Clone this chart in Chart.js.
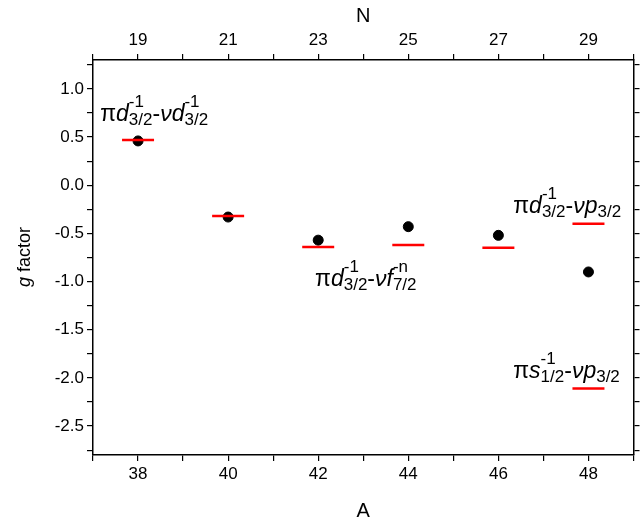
<!DOCTYPE html>
<html>
<head>
<meta charset="utf-8">
<script src="https://cdn.jsdelivr.net/npm/chart.js@4"></script>
<style>
  body { margin: 0; background: #fff; overflow: hidden; }
  #wrap { width: 652px; height: 527px; }
</style>
</head>
<body>
<div id="wrap"><canvas id="gchart"></canvas></div>
<script>
// mass numbers and measured g factors
var massA = [38, 40, 42, 44, 46, 48];
var gExp = [0.46, -0.33, -0.57, -0.43, -0.52, -0.90];
// calculated configurations (red bars)
var calcA = [38, 40, 42, 44, 46, 48, 48];
var gCalc = [0.47, -0.32, -0.64, -0.62, -0.65, -0.40, -2.11];
var yTicks = [-2.5, -2.0, -1.5, -1.0, -0.5, 0.0, 0.5, 1.0];

// configuration labels: [x, y, segments]; seg = [text, italic] or {sup, sub}
var labels = [
    [37.16, 0.67, [["π", false], ["d", true], { sup: "-1", sub: "3/2" }, ["-", false], ["ν", true], ["d", true], { sup: "-1", sub: "3/2" }]],
    [41.93, -1.05, [["π", false], ["d", true], { sup: "-1", sub: "3/2" }, ["-", false], ["ν", true], ["f", true], { sup: "-n", sub: "7/2" }]],
    [46.33, -0.29, [["π", false], ["d", true], { sup: "-1", sub: "3/2" }, ["-", false], ["ν", true], ["p", true], { sup: "", sub: "3/2" }]],
    [46.33, -2.0, [["π", false], ["s", true], { sup: "-1", sub: "1/2" }, ["-", false], ["ν", true], ["p", true], { sup: "", sub: "3/2" }]]
];

function toXY(xs, ys) {
    return xs.map(function (x, i) { return { x: x, y: ys[i] }; });
}

var labelPlugin = {
    id: "configLabels",
    afterDatasetsDraw: function (chart) {
        var c = chart.ctx;
        var sx = chart.scales.x, sy = chart.scales.y;
        c.save();
        c.fillStyle = "#000";
        c.textBaseline = "alphabetic";
        labels.forEach(function (l) {
            var px = sx.getPixelForValue(l[0]);
            var py = sy.getPixelForValue(l[1]);
            l[2].forEach(function (s) {
                if (Array.isArray(s)) {
                    c.font = (s[1] ? "italic " : "") + "23px 'Liberation Sans', Arial";
                    c.fillText(s[0], px, py);
                    px += c.measureText(s[0]).width;
                } else {
                    c.font = "17px 'Liberation Sans', Arial";
                    c.fillText(s.sup, px, py - 14);
                    c.fillText(s.sub, px, py + 4);
                    px += Math.max(c.measureText(s.sup).width, c.measureText(s.sub).width);
                }
            });
        });
        // italic g axis title
        c.translate(30, 257);
        c.rotate(-Math.PI / 2);
        var w1, w2;
        c.font = "italic 18px 'Liberation Sans', Arial";
        w1 = c.measureText("g").width;
        c.font = "18px 'Liberation Sans', Arial";
        w2 = c.measureText(" factor").width;
        var x0 = -(w1 + w2) / 2;
        c.font = "italic 18px 'Liberation Sans', Arial";
        c.fillText("g", x0, 0);
        c.font = "18px 'Liberation Sans', Arial";
        c.fillText(" factor", x0 + w1, 0);
        c.restore();
    }
};

var tickFont = { family: "'Liberation Sans', Arial", size: 17 };
var axisGrid = { drawOnChartArea: false, drawTicks: true, tickLength: 6, color: "#000", lineWidth: 1.2 };
var axisBorder = { color: "#000", width: 1.5 };

function minorTicks(s) {
    var t = [];
    for (var v = -2.75; v <= 1.26; v += 0.25) t.push({ value: Math.round(v * 100) / 100 });
    s.ticks = t;
}

new Chart(document.getElementById("gchart").getContext("2d"), {
    type: "scatter",
    data: {
        datasets: [
            {
                label: "calc",
                data: toXY(calcA, gCalc),
                pointStyle: "line",
                pointRadius: 16,
                pointHoverRadius: 16,
                borderColor: "#ff0000",
                backgroundColor: "#ff0000",
                pointBorderWidth: 2.5
            },
            {
                label: "exp",
                data: toXY(massA, gExp),
                pointStyle: "circle",
                pointRadius: 5,
                backgroundColor: "#000",
                borderColor: "#000"
            }
        ]
    },
    options: {
        responsive: true,
        maintainAspectRatio: false,
        animation: false,
        layout: { padding: 0 },
        plugins: { legend: { display: false }, tooltip: { enabled: false } },
        scales: {
            x: {
                type: "linear", position: "bottom", min: 37, max: 49,
                grid: axisGrid, border: axisBorder,
                afterFit: function (s) { s.height = 72; },
                ticks: {
                    stepSize: 1, font: tickFont, color: "#000", maxRotation: 0, autoSkip: false,
                    callback: function (v) { return v % 2 === 0 ? v : ""; }
                },
                title: { display: true, text: "A", font: { family: "'Liberation Sans', Arial", size: 20 }, color: "#000", padding: { top: 14 } }
            },
            x2: {
                type: "linear", position: "top", min: 37, max: 49,
                grid: axisGrid, border: axisBorder,
                afterFit: function (s) { s.height = 60; },
                ticks: {
                    stepSize: 1, font: tickFont, color: "#000", maxRotation: 0, autoSkip: false,
                    callback: function (v) { return v % 2 === 0 ? v - 19 : ""; }
                },
                title: { display: true, text: "N", font: { family: "'Liberation Sans', Arial", size: 20 }, color: "#000", padding: { bottom: 0 } }
            },
            y: {
                type: "linear", position: "left", min: -2.8, max: 1.3,
                grid: axisGrid, border: axisBorder,
                afterFit: function (s) { s.width = 93; },
                afterBuildTicks: minorTicks,
                ticks: {
                    font: tickFont, color: "#000", autoSkip: false,
                    callback: function (v) { return yTicks.indexOf(v) >= 0 ? v.toFixed(1) : ""; }
                }
            },
            y2: {
                type: "linear", position: "right", min: -2.8, max: 1.3,
                grid: axisGrid, border: axisBorder,
                afterFit: function (s) { s.width = 8; },
                afterBuildTicks: minorTicks,
                ticks: { display: false }
            }
        }
    },
    plugins: [labelPlugin]
});
</script>
</body>
</html>
